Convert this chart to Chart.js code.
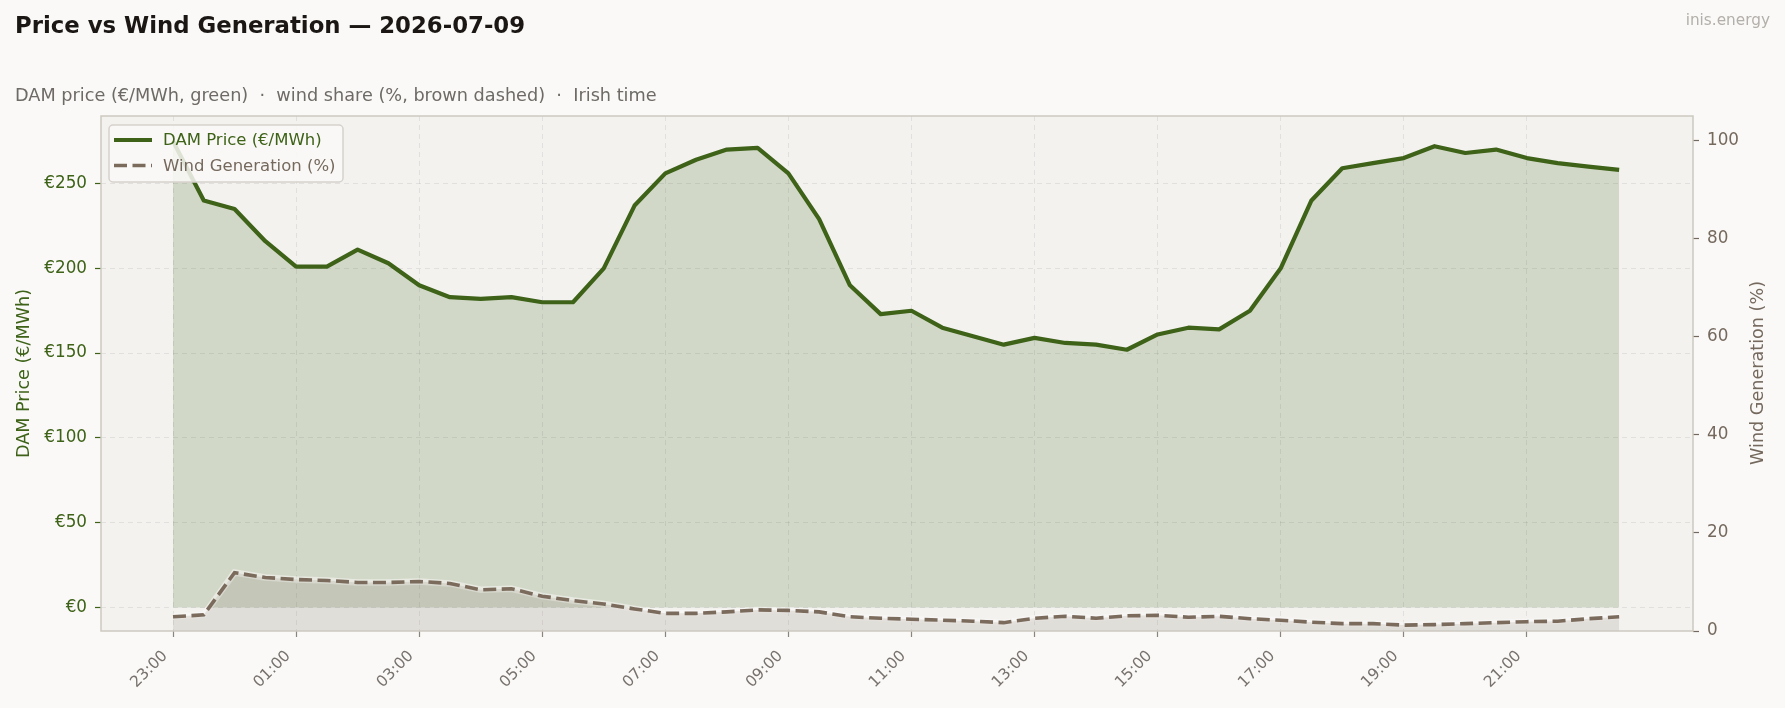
<!DOCTYPE html>
<html>
<head>
<meta charset="utf-8">
<script src="https://cdn.jsdelivr.net/npm/chart.js@4.4.1/dist/chart.umd.min.js"></script>
<style>
    html, body { margin: 0; padding: 0; background: #faf9f7; }
    #wrap { position: relative; width: 1785px; height: 708px; font-family: "DejaVu Sans", sans-serif; }
    #title { position: absolute; left: 15px; top: 12px; font-size: 22.8px; line-height: 1.2; font-weight: bold; color: #1a1714; white-space: nowrap; }
    #subtitle { position: absolute; left: 15px; top: 85px; font-size: 17.7px; line-height: 1.2; color: #6e6a66; white-space: pre; }
    #brand { position: absolute; right: 15px; top: 11px; font-size: 15.3px; line-height: 1.2; color: #b3afaa; }
    #y2title { position: absolute; left: 1757px; top: 373px; transform: translate(-50%, -50%) rotate(-90deg); font-size: 17.6px; color: #75695e; white-space: nowrap; }
    canvas { position: absolute; left: 0; top: 0; }
</style>
</head>
<body>
<div id="wrap">
    <canvas id="chart" width="1785" height="708"></canvas>
    <div id="title">Price vs Wind Generation — 2026-07-09</div>
    <div id="subtitle">DAM price (€/MWh, green)  ·  wind share (%, brown dashed)  ·  Irish time</div>
    <div id="brand">inis.energy</div>
    <div id="y2title">Wind Generation (%)</div>
</div>
<script>
// half-hourly, Irish time (23:00 the evening before)
const times = [
    "23:00", "23:30", "00:00", "00:30", "01:00", "01:30", "02:00", "02:30",
    "03:00", "03:30", "04:00", "04:30", "05:00", "05:30", "06:00", "06:30",
    "07:00", "07:30", "08:00", "08:30", "09:00", "09:30", "10:00", "10:30",
    "11:00", "11:30", "12:00", "12:30", "13:00", "13:30", "14:00", "14:30",
    "15:00", "15:30", "16:00", "16:30", "17:00", "17:30", "18:00", "18:30",
    "19:00", "19:30", "20:00", "20:30", "21:00", "21:30", "22:00", "22:30",
];
const priceEur = [
    275, 240, 235, 216, 201, 201, 211, 203,
    190, 183, 182, 183, 180, 180, 200, 237,
    256, 264, 270, 271, 256, 229, 190, 173,
    175, 165, 160, 155, 159, 156, 155, 152,
    161, 165, 164, 175, 200, 240, 259, 262,
    265, 272, 268, 270, 265, 262, 260, 258,
];
const windPct = [
    2.9, 3.3, 11.9, 10.9, 10.5, 10.3, 9.9, 9.9,
    10.1, 9.7, 8.4, 8.6, 7.1, 6.2, 5.5, 4.5,
    3.6, 3.6, 3.9, 4.3, 4.2, 3.9, 2.9, 2.6,
    2.4, 2.2, 2.0, 1.7, 2.6, 3.0, 2.6, 3.1,
    3.2, 2.8, 3.0, 2.5, 2.2, 1.8, 1.5, 1.5,
    1.2, 1.3, 1.5, 1.7, 1.9, 2.0, 2.5, 2.9,
];
const timeTickIdx = [0, 4, 8, 12, 16, 20, 24, 28, 32, 36, 40, 44];
const priceTicks = [0, 50, 100, 150, 200, 250];
const windTicks = [0, 20, 40, 60, 80, 100];

const GREEN = "#3d6218";
const BROWN = "#7b6b5c";
const BROWN_TXT = "#75695e";
const GREY = "#77726d";
const FONT = "DejaVu Sans";

Chart.defaults.font.family = FONT;

// plot background + full frame, and the legend floating inside the plot
const plotDeco = {
    id: "plotDeco",
    beforeDraw(chart) {
        const a = chart.chartArea, ctx = chart.ctx;
        ctx.save();
        ctx.fillStyle = "#f3f2ef";
        ctx.fillRect(a.left, a.top, a.right - a.left, a.bottom - a.top);
        ctx.restore();
    },
    afterDraw(chart) {
        const a = chart.chartArea, ctx = chart.ctx;
        ctx.save();
        ctx.strokeStyle = "#cdc8c1";
        ctx.lineWidth = 1.5;
        ctx.strokeRect(a.left, a.top, a.right - a.left, a.bottom - a.top);

        const x = a.left + 8, y = a.top + 9, w = 234, h = 57;
        ctx.beginPath();
        ctx.roundRect(x, y, w, h, 4);
        ctx.fillStyle = "rgba(250,249,247,0.85)";
        ctx.fill();
        ctx.strokeStyle = "#d6d1cb";
        ctx.lineWidth = 1.5;
        ctx.stroke();

        chart.data.datasets.filter((ds) => ds.legendText).forEach((ds, i) => {
            const cy = y + 15 + i * 25.5;
            ctx.beginPath();
            ctx.setLineDash(ds.borderDash || []);
            ctx.strokeStyle = ds.borderColor;
            ctx.lineWidth = ds.borderWidth;
            ctx.moveTo(x + 5, cy);
            ctx.lineTo(x + 43, cy);
            ctx.stroke();
            ctx.setLineDash([]);
            ctx.fillStyle = ds.legendText;
            ctx.font = "16.5px " + FONT;
            ctx.textBaseline = "middle";
            ctx.fillText(ds.label, x + 54, cy + 1);
        });
        ctx.restore();
    },
};

const ctx = document.getElementById("chart").getContext("2d");
new Chart(ctx, {
    type: "line",
    data: {
        datasets: [
            {
                label: "DAM Price (€/MWh)",
                data: times.map((t, i) => ({ x: i, y: priceEur[i] })),
                yAxisID: "y",
                borderColor: GREEN,
                borderWidth: 4.2,
                borderJoinStyle: "round",
                pointRadius: 0,
                tension: 0,
                fill: "origin",
                backgroundColor: "rgba(61,98,24,0.18)",
                legendText: GREEN,
                order: 2,
            },
            {
                label: "Wind Generation (%)",
                data: times.map((t, i) => ({ x: i, y: windPct[i] })),
                yAxisID: "y2",
                borderColor: BROWN,
                borderWidth: 3.6,
                borderDash: [13, 5.5],
                pointRadius: 0,
                tension: 0,
                fill: "origin",
                backgroundColor: "rgba(123,107,92,0.15)",
                legendText: BROWN_TXT,
                order: 0,
            },
            {
                // light halo under the dashed wind line
                label: "wind halo",
                data: times.map((t, i) => ({ x: i, y: windPct[i] })),
                yAxisID: "y2",
                borderColor: "rgba(250,249,247,0.55)",
                borderWidth: 6.5,
                pointRadius: 0,
                tension: 0,
                fill: false,
                order: 1,
            },
        ],
    },
    options: {
        responsive: false,
        animation: false,
        devicePixelRatio: 1,
        layout: { padding: { top: 116, left: 0, right: 0, bottom: 0 } },
        plugins: {
            legend: { display: false },
            tooltip: { enabled: false },
        },
        scales: {
            x: {
                type: "linear",
                min: -2.34,
                max: 49.4,
                afterBuildTicks: (s) => { s.ticks = timeTickIdx.map((v) => ({ value: v })); },
                afterFit: (s) => { s.height = 77; },
                ticks: {
                    autoSkip: false,
                    minRotation: 45,
                    maxRotation: 45,
                    color: GREY,
                    font: { size: 15.5 },
                    padding: 10,
                    labelOffset: -8,
                    callback: (v) => times[v],
                },
                grid: {
                    color: "rgba(0,0,0,0.07)",
                    tickColor: "#8a857f",
                    tickLength: 6,
                    tickWidth: 1.2,
                    tickBorderDash: [],
                },
                border: { display: false, dash: [5, 4] },
            },
            y: {
                position: "left",
                min: -13.8,
                max: 289.8,
                afterBuildTicks: (s) => { s.ticks = priceTicks.map((v) => ({ value: v })); },
                afterFit: (s) => { s.width = 101; },
                ticks: {
                    color: GREEN,
                    font: { size: 16.8 },
                    padding: 8,
                    callback: (v) => "€" + v,
                },
                grid: {
                    color: "rgba(0,0,0,0.07)",
                    tickColor: GREEN,
                    tickLength: 6,
                    tickWidth: 1.2,
                    tickBorderDash: [],
                },
                border: { display: false, dash: [5, 4] },
                title: {
                    display: true,
                    text: "DAM Price (€/MWh)",
                    color: GREEN,
                    font: { size: 17.6 },
                    padding: { top: 14, bottom: 0 },
                },
            },
            y2: {
                position: "right",
                min: 0,
                max: 105,
                afterBuildTicks: (s) => { s.ticks = windTicks.map((v) => ({ value: v })); },
                afterFit: (s) => { s.width = 92; },
                ticks: {
                    color: BROWN_TXT,
                    font: { size: 16.8 },
                    padding: 8,
                },
                grid: {
                    drawOnChartArea: false,
                    tickColor: BROWN_TXT,
                    tickLength: 6,
                    tickWidth: 1.2,
                },
                border: { display: false },
            },
        },
    },
    plugins: [plotDeco],
});
</script>
</body>
</html>
